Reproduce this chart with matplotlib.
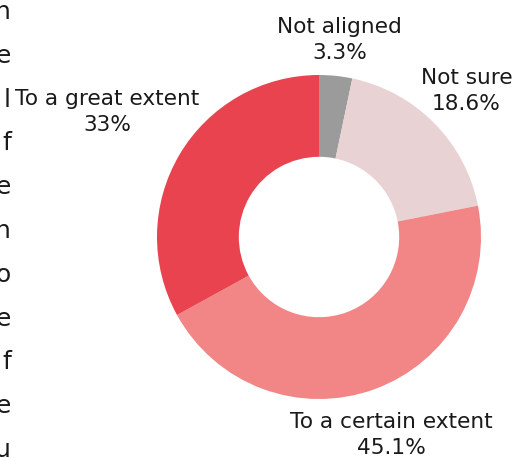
import matplotlib
matplotlib.use('Agg')
import matplotlib.pyplot as plt
import numpy as np

# Donut data (clockwise from the top)
labels = ['Not aligned', 'Not sure', 'To a certain extent', 'To a great extent']
shares = [3.3, 18.6, 45.1, 33]
share_text = ['3.3%', '18.6%', '45.1%', '33%']
colors = ['#9b9b9b', '#e8d2d3', '#f28586', '#e8434f']

# clipped paragraph on the left edge (only the last letters are visible)
edge_letters = ['n', 'e', 'l', 'f', 'e', 'n', 'o', 'e', 'f', 'e', 'u']

W, H = 524, 458
fig = plt.figure(figsize=(W / 100, H / 100), dpi=100)
ax = fig.add_axes([0, 0, 1, 1])

cx, cy, r = 319, H - 237, 162
wedges, _ = ax.pie(shares, colors=colors, startangle=90, counterclock=False,
                   center=(cx, cy), radius=r, frame=True,
                   wedgeprops=dict(width=r * 0.505, linewidth=0))
ax.set_xlim(0, W)
ax.set_ylim(0, H)
ax.axis('off')

# labels placed along each wedge's middle angle
dists = [1.22, 1.28, 1.30, 1.52]
for w, lab, pct, d in zip(wedges, labels, share_text, dists):
    mid = np.deg2rad((w.theta1 + w.theta2) / 2)
    x = cx + d * r * np.cos(mid)
    y = cy + d * r * np.sin(mid)
    ax.text(x, y, lab + '\n' + pct, ha='center', va='center', fontsize=15.6,
            color='#1a1a1a', linespacing=1.38)

for i, ch in enumerate(edge_letters):
    ax.text(11, H - (19 + 43.8 * i), ch, ha='right', va='baseline',
            fontsize=18, color='#1a1a1a')

fig.savefig('out.png', dpi=100)
